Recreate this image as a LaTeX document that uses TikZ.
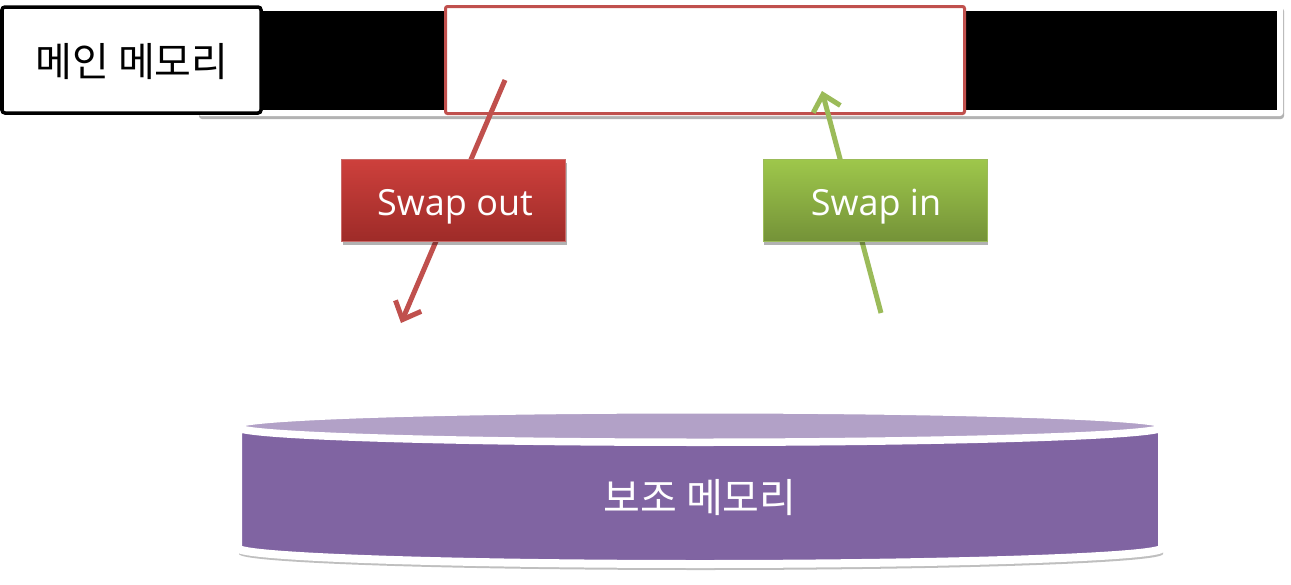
\documentclass[tikz,border=0pt]{standalone}
\usepackage{fontspec}
\setmainfont{Open Sans}
\newfontfamily\kr{Noto Sans CJK KR}
\usetikzlibrary{arrows.meta,shadows}
\definecolor{rd}{RGB}{192,80,77}
\definecolor{rdtop}{RGB}{205,64,60}
\definecolor{rdbot}{RGB}{158,43,40}
\definecolor{gnline}{RGB}{155,187,89}
\definecolor{gntop}{RGB}{158,199,75}
\definecolor{gnbot}{RGB}{116,146,56}
\definecolor{pu}{RGB}{128,100,162}
\definecolor{pulight}{RGB}{178,161,199}
\tikzset{
  shad/.style={drop shadow={shadow xshift=1pt,shadow yshift=-3pt,opacity=.3,fill=black}},
  cylshad/.style={drop shadow={shadow xshift=1pt,shadow yshift=-6pt,opacity=.25,fill=black}},
  membox/.style={draw=black,line width=3.5pt,fill=white,rounded corners=3pt,minimum width=259pt,minimum height=106pt,inner sep=0pt},
  selbox/.style={draw=rd,line width=3pt,fill=white,rounded corners=2pt,minimum width=519pt,minimum height=107pt,inner sep=0pt},
  tagbox/.style={line width=1pt,minimum width=224pt,minimum height=82pt,inner sep=0pt,shad},
  tagtext/.style={text=white,font=\fontsize{36}{42}\selectfont,inner sep=0pt},
  outarrow/.style={draw=rd,line width=5pt,-{Straight Barb[length=15pt,width=28pt]}},
  inarrow/.style={draw=gnline,line width=5pt,-{Straight Barb[length=15pt,width=28pt]}},
  krtext/.style={font=\kr\fontsize{40}{46}\selectfont,inner sep=0pt}
}
\begin{document}
\begin{tikzpicture}[x=1pt,y=-1pt]
\useasboundingbox (0,0) rectangle (1291,584);
% memory bar
\path[fill=white,rounded corners=3pt,shad] (198,5) rectangle (1283,116);
\fill[black] (200,11) rectangle (1277,110);
\node[membox] (main) at (131.5,60) {};
\node[krtext] (mainlbl) at (132,62) {메인 메모리};
\node[selbox] (sel) at (705,60) {};
% arrows
\coordinate (outS) at (505,80);
\coordinate (outE) at (401,323);
\coordinate (inS) at (881,313);
\coordinate (inE) at (822,91);
\draw[outarrow] (outS) -- (outE);
\draw[inarrow] (inS) -- (inE);
% tags
\node[tagbox,draw=rd!85!white,top color=rdtop,bottom color=rdbot] (swout) at (453.5,200.5) {};
\node[tagtext] (swoutlbl) at (455,207) {Swap out};
\node[tagbox,draw=gnline,top color=gntop,bottom color=gnbot] (swin) at (875,200.5) {};
\node[tagtext] (swinlbl) at (876,207) {Swap in};
% secondary memory cylinder
\path[fill=pu,draw=white,line width=8pt,line join=round,cylshad]
  (238,427) -- (238,548) arc[start angle=180,end angle=360,x radius=462pt,y radius=16pt]
  -- (1162,427) arc[start angle=360,end angle=180,x radius=462pt,y radius=15pt] -- cycle;
\path[fill=pulight,draw=white,line width=5pt] (700,426) ellipse[x radius=462pt,y radius=15pt];
\node[krtext,text=white] (sublbl) at (700,498) {보조 메모리};
\end{tikzpicture}
\end{document}
